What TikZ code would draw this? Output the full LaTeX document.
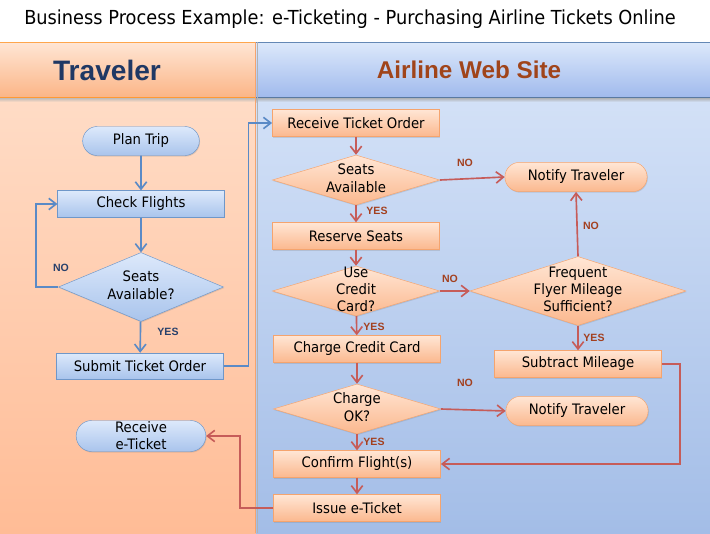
\documentclass[tikz,border=0pt]{standalone}
\usepackage{fontspec}
\setmainfont{DejaVu Sans}[FakeStretch=0.92]
\newfontfamily\headfont{Liberation Sans}
\usetikzlibrary{shapes.geometric,shapes.misc,arrows.meta,shadows}

\definecolor{bluetop}{HTML}{DDE9FB}
\definecolor{bluebot}{HTML}{A9C4EC}
\definecolor{blueline}{HTML}{6F97C9}
\definecolor{orangetop}{HTML}{FFE6D5}
\definecolor{orangebot}{HTML}{FBB88E}
\definecolor{orangeline}{HTML}{F5A46E}
\definecolor{bluearrow}{HTML}{5A8AC6}
\definecolor{redarrow}{HTML}{C65C59}
\definecolor{navytext}{HTML}{1F3864}
\definecolor{browntext}{HTML}{A0441A}
\definecolor{nolabel}{HTML}{A3401F}
\definecolor{tlabel}{HTML}{27406B}
\definecolor{travtop}{HTML}{FFDCC6}
\definecolor{travbot}{HTML}{FFBC96}
\definecolor{sitetop}{HTML}{D3E1F7}
\definecolor{sitebot}{HTML}{A3BDE7}

% text inside the diamonds, kept from growing the shape
\newcommand{\dtext}[1]{\makebox[0pt]{\raisebox{-0.25em}[0pt][0pt]{\begin{tabular}{@{}c@{}}#1\end{tabular}}}}

\begin{document}
\begin{tikzpicture}[x=0.03cm, y=-0.03cm,
    every node/.style={font=\fontsize{12.3}{14.6}\selectfont},
    shade/.style={drop shadow={shadow xshift=0.6pt, shadow yshift=-0.9pt, opacity=0.25}},
    tbox/.style={rectangle, draw=blueline, top color=bluetop, bottom color=bluebot, shade, minimum width=5cm, minimum height=0.8cm},
    tterm/.style={rounded rectangle, draw=blueline, top color=bluetop, bottom color=bluebot, shade, align=center, inner sep=1pt},
    tdia/.style={diamond, draw=blueline, top color=bluetop, bottom color=bluebot, shade, inner sep=0pt, minimum width=4.95cm, minimum height=2.07cm},
    abox/.style={rectangle, draw=orangeline, top color=orangetop, bottom color=orangebot, shade, minimum width=5.02cm, minimum height=0.81cm},
    aterm/.style={rounded rectangle, draw=orangeline, top color=orangetop, bottom color=orangebot, shade, minimum width=4.5cm, minimum height=0.88cm},
    adia/.style={diamond, draw=orangeline, top color=orangetop, bottom color=orangebot, shade, inner sep=0pt, minimum width=5.02cm, minimum height=1.5cm},
    barrow/.style={draw=bluearrow, line width=1.4pt, -{Straight Barb[length=2.2mm, width=3.4mm]}},
    rarrow/.style={draw=redarrow, line width=1.4pt, -{Straight Barb[length=2.2mm, width=3.4mm]}},
    tlab/.style={text=tlabel, font=\headfont\bfseries\fontsize{9}{10}\selectfont, inner sep=0pt},
    alab/.style={text=nolabel, font=\headfont\bfseries\fontsize{9}{10}\selectfont, inner sep=0pt}]

    \useasboundingbox (0,0) rectangle (710,533);
    \fill[white] (0,0) rectangle (710,533);

    % Title
    \node (title) at (350,19) {\fontsize{16.5}{18}\selectfont Business Process Example: e-Ticketing - Purchasing Airline Tickets Online};

    % Lanes
    \shade[top color=travtop, bottom color=travbot] (0,97) rectangle (256,533);
    \shade[top color=sitetop, bottom color=sitebot] (256,97) rectangle (710,533);
    \shade[top color=black!35, bottom color=sitetop] (256,97) rectangle (710,102);
    \shade[top color=black!30, bottom color=travtop] (0,97) rectangle (256,102);
    \shade[top color=orangetop, bottom color=orangebot!95!orange] (0,42) rectangle (256,97);
    \shade[top color=bluetop!95!sitetop, bottom color=bluebot!95!blue] (256,42) rectangle (710,97);
    \draw[orange!70, line width=0.8pt] (0,42) -- (256,42);
    \draw[blueline!90!black, line width=0.8pt] (256,42) -- (710,42);
    \draw[orange!80, line width=0.8pt] (0,97) -- (256,97);
    \draw[blueline!80!black, line width=0.8pt] (256,97) -- (710,97);
    \draw[orangeline, line width=0.8pt] (255,42) -- (255,533);
    \draw[black!30, line width=0.8pt] (257,42) -- (257,533);
    \node (travhead) at (107,70) {\headfont\bfseries\fontsize{24}{26}\selectfont\color{navytext}Traveler};
    \node (sitehead) at (469,70) {\headfont\bfseries\fontsize{20.7}{22}\selectfont\color{browntext}Airline Web Site};

    % Traveler lane
    \node[tterm, minimum width=3.57cm, minimum height=0.87cm] (plan) at (141,141) {Plan Trip};
    \node[tbox] (check) at (141,204) {Check Flights};
    \node[tdia] (tseats) at (141,287) {\dtext{Seats\\Available?}};
    \node[tbox, minimum height=0.78cm] (submit) at (140,366) {Submit Ticket Order};
    \node[tterm, minimum width=3.96cm, minimum height=0.93cm] (recv) at (141,436) {Receive\\e-Ticket};

    \draw[barrow] (plan) -- (check);
    \draw[barrow] (check) -- (tseats);
    \draw[barrow] (tseats) -- (submit);
    \draw[barrow] (tseats.west) -- ++(-22,0) |- (check.west);
    \node[tlab] (tyes) at (168,332) {YES};
    \node[tlab] (tno) at (61,268) {NO};

    % Airline web site lane
    \node[abox] (rto) at (356,123) {Receive Ticket Order};
    \node[adia] (aseats) at (356,180) {\dtext{Seats\\Available}};
    \node[abox] (reserve) at (356,236) {Reserve Seats};
    \node[adia] (ucc) at (356,291) {\dtext{Use\\Credit\\Card?}};
    \node[abox] (charge) at (357,349) {Charge Credit Card};
    \node[adia] (chok) at (357,409) {\dtext{Charge\\OK?}};
    \node[abox] (confirm) at (357,464) {Confirm Flight(s)};
    \node[abox] (issue) at (357,508) {Issue e-Ticket};
    \node[aterm] (notifyA) at (576,177) {Notify Traveler};
    \node[adia, minimum width=6.48cm, minimum height=2.07cm] (ff) at (578,291) {\dtext{Frequent\\Flyer Mileage\\Sufficient?}};
    \node[abox] (subtract) at (578,364) {Subtract Mileage};
    \node[aterm] (notifyB) at (577,411) {Notify Traveler};

    % hand over between the lanes
    \draw[barrow] (submit.east) -- ++(25,0) |- (rto.west);
    \draw[rarrow] (issue.west) -- ++(-33,0) |- (recv.east);

    \draw[rarrow] (rto) -- (aseats);
    \draw[rarrow] (aseats) -- (reserve);
    \draw[rarrow] (aseats.east) -- (notifyA.west);
    \draw[rarrow] (reserve) -- (ucc);
    \draw[rarrow] (ucc.east) -- (ff.west);
    \draw[rarrow] (ucc) -- (charge);
    \draw[rarrow] (ff.north) -- (notifyA.south);
    \draw[rarrow] (ff.south) -- (subtract.north);
    \draw[rarrow] (charge) -- (chok);
    \draw[rarrow] (chok.east) -- (notifyB.west);
    \draw[rarrow] (chok) -- (confirm);
    \draw[rarrow] (subtract.east) -- ++(18,0) |- (confirm.east);
    \draw[rarrow] (confirm) -- (issue);

    \node[alab] (ayes1) at (377,211) {YES};
    \node[alab] (ano1) at (465,163) {NO};
    \node[alab] (ano2) at (450,279) {NO};
    \node[alab] (ayes2) at (374,327) {YES};
    \node[alab] (ano3) at (591,226) {NO};
    \node[alab] (ayes3) at (594,338) {YES};
    \node[alab] (ano4) at (465,383) {NO};
    \node[alab] (ayes4) at (374,442) {YES};
\end{tikzpicture}
\end{document}
